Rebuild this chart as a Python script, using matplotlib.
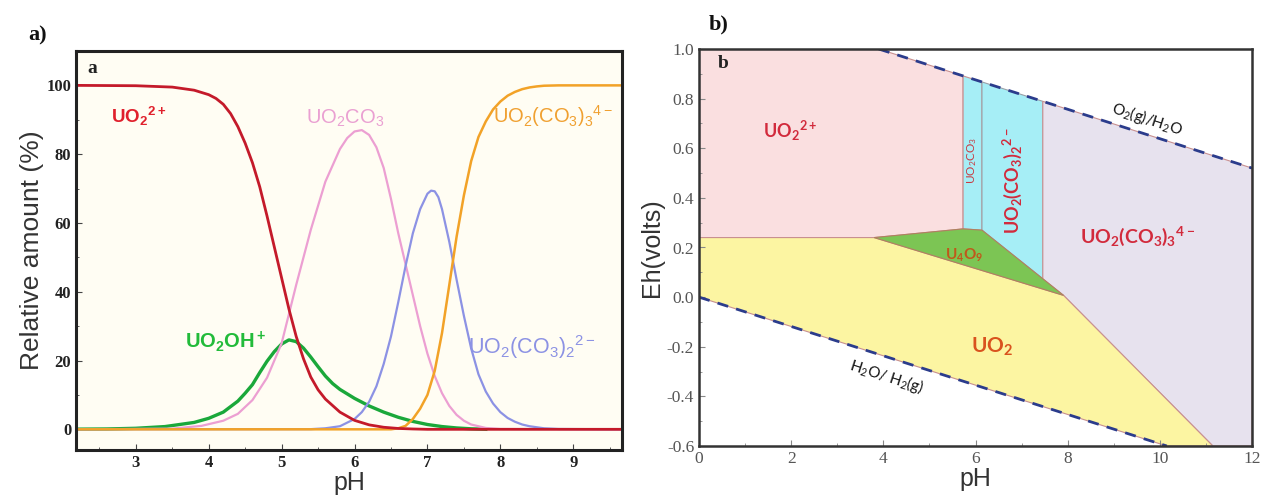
import matplotlib.pyplot as plt
import numpy as np

plt.rcParams['mathtext.fontset'] = 'custom'
plt.rcParams['mathtext.default'] = 'regular'

# ---------------- panel a: speciation curves ----------------
red_ph = [2.2, 3.0, 3.5, 3.8, 4.0, 4.1, 4.2, 4.3, 4.4, 4.5, 4.6, 4.7, 4.8, 4.9, 5.0, 5.1,
          5.2, 5.3, 5.4, 5.5, 5.6, 5.8, 6.0, 6.2, 6.4, 6.6, 6.8, 7.0, 9.7]
red = [100, 99.9, 99.5, 98.6, 97.3, 96.2, 94.5, 91.8, 88, 83.2, 77.5, 70.5, 62, 53, 44, 35,
       27, 20.5, 15.2, 11.5, 8.8, 5, 2.6, 1.3, 0.6, 0.25, 0.1, 0, 0]

green_ph = [2.2, 2.6, 3.0, 3.4, 3.8, 4.0, 4.2, 4.4, 4.5, 4.6, 4.7, 4.8, 4.9, 5.0, 5.1, 5.2,
            5.3, 5.4, 5.5, 5.6, 5.7, 5.8, 6.0, 6.2, 6.4, 6.6, 6.8, 7.0, 7.2, 7.4, 7.6, 7.8]
green = [0.05, 0.1, 0.3, 0.8, 2, 3.2, 5, 8.2, 10.5, 13, 16.5, 19.8, 22.6, 24.8, 26, 25.5,
         23.6, 21, 18.2, 15.5, 13.3, 11.6, 9, 6.8, 5, 3.5, 2.3, 1.4, 0.8, 0.4, 0.15, 0]

pink_ph = [2.2, 3.5, 3.9, 4.2, 4.4, 4.6, 4.8, 5.0, 5.2, 5.4, 5.6, 5.8, 5.9, 6.0, 6.1, 6.2,
           6.3, 6.4, 6.5, 6.6, 6.7, 6.8, 6.9, 7.0, 7.1, 7.2, 7.3, 7.4, 7.5, 7.6, 7.8, 8.0, 9.7]
pink = [0, 0.2, 1, 2.5, 4.5, 8.5, 15, 25, 42, 58, 72, 81.5, 84.7, 86.6, 87, 85.6,
        82, 76, 67, 57, 48, 39, 30, 22, 15.5, 10.5, 6.8, 4.2, 2.5, 1.4, 0.4, 0.1, 0]

blue_ph = [2.2, 5.4, 5.6, 5.8, 6.0, 6.1, 6.2, 6.3, 6.4, 6.5, 6.6, 6.7, 6.8, 6.9, 7.0, 7.05,
           7.1, 7.15, 7.2, 7.3, 7.4, 7.5, 7.6, 7.7, 7.8, 7.9, 8.0, 8.1, 8.2, 8.3, 8.4, 8.6, 8.8, 9.7]
blue = [0, 0.05, 0.3, 0.9, 3, 5, 8, 12.5, 19, 27, 37, 47.5, 57, 64, 68.5, 69.4,
        69.2, 67.5, 64, 54.5, 43.5, 33, 23.5, 16, 11, 7.5, 5, 3.3, 2.2, 1.4, 0.9, 0.3, 0.1, 0]

orange_ph = [2.2, 6.5, 6.6, 6.7, 6.8, 6.9, 7.0, 7.1, 7.2, 7.3, 7.4, 7.5, 7.6, 7.7, 7.8,
             7.9, 8.0, 8.1, 8.2, 8.3, 8.4, 8.5, 8.6, 8.8, 9.7]
orange = [0, 0, 0.3, 1, 3, 6, 10, 17, 28, 42, 56, 68, 78, 85, 89.5,
          93, 95.3, 97, 98.1, 98.9, 99.4, 99.7, 99.9, 100, 100]

# ---------------- panel b: Eh-pH diagram ----------------
o2_ph = [3.9, 12.0]
o2_eh = [1.0, 0.52]
h2_ph = [0.0, 10.15]
h2_eh = [0.0, -0.6]

uo2_2p_ph = [0, 3.8, 5.73, 5.73, 3.9, 0]
uo2_2p_eh = [0.24, 0.24, 0.275, float(np.interp(5.73, o2_ph, o2_eh)), 1.0, 1.0]
uo2co3_ph = [5.73, 6.14, 6.14, 5.73]
uo2co3_eh = [0.275, 0.27, float(np.interp(6.14, o2_ph, o2_eh)), float(np.interp(5.73, o2_ph, o2_eh))]
dicarb_ph = [6.14, 7.46, 7.46, 6.14]
dicarb_eh = [0.27, 0.074, float(np.interp(7.46, o2_ph, o2_eh)), float(np.interp(6.14, o2_ph, o2_eh))]
tricarb_ph = [7.46, 7.91, 11.15, 12, 12, 7.46]
tricarb_eh = [0.074, 0.007, -0.6, -0.6, 0.52, float(np.interp(7.46, o2_ph, o2_eh))]
u4o9_ph = [3.8, 5.73, 6.14, 7.91]
u4o9_eh = [0.24, 0.275, 0.27, 0.007]
uo2_ph = [0, 3.8, 7.91, 11.15, 10.15, 0]
uo2_eh = [0.24, 0.24, 0.007, -0.6, -0.6, 0.0]

fig = plt.figure(figsize=(12.67, 4.95), dpi=100)

serif = 'Liberation Serif'
sans = 'Liberation Sans'

###############################################################################
ax1 = fig.add_axes([0.060, 0.091, 0.431, 0.806])
ax1.set_facecolor('#fffdf3')

ax1.plot(green_ph, green, color='#1aa83a', lw=2.4)
ax1.plot(pink_ph, pink, color='#ec9fd2', lw=1.6)
ax1.plot(blue_ph, blue, color='#8c92e4', lw=1.6)
ax1.plot(orange_ph, orange, color='#f2a227', lw=1.8)
ax1.plot(red_ph, red, color='#c41a2a', lw=2.0)

ax1.set_xlim(2.18, 9.67)
ax1.set_ylim(-6, 110)
ax1.set_xticks([3, 4, 5, 6, 7, 8, 9])
ax1.set_xticks(np.arange(2.5, 9.6, 0.5), minor=True)
ax1.set_yticks([0, 20, 40, 60, 80, 100])
ax1.set_yticks(np.arange(10, 101, 10), minor=True)
ax1.tick_params(which='both', direction='in', color='#444')
ax1.tick_params(which='major', length=4)
ax1.tick_params(which='minor', length=2)
for label in ax1.get_xticklabels() + ax1.get_yticklabels():
    label.set_fontname(serif)
    label.set_fontweight('bold')
    label.set_fontsize(12)
    label.set_color('#222')
for sp in ax1.spines.values():
    sp.set_linewidth(2.2)
    sp.set_color('#222')

ax1.set_ylabel('Relative amount (%)', fontname=sans, fontsize=19, color='#333', labelpad=2)
ax1.set_xlabel('pH', fontname=sans, fontsize=18, color='#333', labelpad=0)

ax1.text(2.34, 105, 'a', fontname=serif, fontweight='bold', fontsize=14, color='#222', va='center')
ax1.text(2.66, 91, 'UO$_2$$^{2+}$', fontname=sans, fontweight='bold', fontsize=13.5, color='#e0202c', va='center')
ax1.text(5.33, 90.5, 'UO$_2$CO$_3$', fontname=sans, fontsize=14.5, color='#eaa0d2', va='center')
ax1.text(7.9, 91, 'UO$_2$(CO$_3$)$_3$$^{4-}$', fontname=sans, fontsize=14.5, color='#f0a030', va='center')
ax1.text(3.67, 25.5, 'UO$_2$OH$^+$', fontname=sans, fontweight='bold', fontsize=14.5, color='#22bb3a', va='center')
ax1.text(7.56, 24, 'UO$_2$(CO$_3$)$_2$$^{2-}$', fontname=sans, fontsize=15.5, color='#8c92e4', va='center')

###############################################################################
ax2 = fig.add_axes([0.5517, 0.099, 0.4365, 0.802])
edge = '#c89090'
ax2.fill(uo2_2p_ph, uo2_2p_eh, facecolor='#fadfe0', edgecolor=edge, lw=0.8)
ax2.fill(uo2co3_ph, uo2co3_eh, facecolor='#a6eef6', edgecolor=edge, lw=0.8)
ax2.fill(dicarb_ph, dicarb_eh, facecolor='#a6eef6', edgecolor='#9aa0a8', lw=0.8)
ax2.fill(tricarb_ph, tricarb_eh, facecolor='#e7e2ee', edgecolor=edge, lw=0.8)
ax2.fill(uo2_ph, uo2_eh, facecolor='#fcf5a2', edgecolor=edge, lw=0.8)
ax2.fill(u4o9_ph, u4o9_eh, facecolor='#7cc554', edgecolor='#b08060', lw=0.8)

ax2.plot(o2_ph, o2_eh, color='#2b3c8c', lw=2, ls=(0, (4, 3)))
ax2.plot(h2_ph, h2_eh, color='#2b3c8c', lw=2, ls=(0, (4, 3)))

ax2.set_xlim(0, 12)
ax2.set_ylim(-0.6, 1.0)
ax2.set_xticks(np.arange(0, 13, 2))
ax2.set_xticks(np.arange(1, 12, 2), minor=True)
ax2.set_yticks(np.arange(-0.6, 1.01, 0.2))
ax2.set_yticks(np.arange(-0.5, 1.0, 0.2), minor=True)
ax2.set_yticklabels(['%.1f' % v for v in np.arange(-0.6, 1.01, 0.2)])
ax2.tick_params(which='both', direction='in', color='#888')
ax2.tick_params(which='major', length=4)
ax2.tick_params(which='minor', length=2)
for label in ax2.get_xticklabels() + ax2.get_yticklabels():
    label.set_fontname(serif)
    label.set_fontsize(12.5)
    label.set_color('#555')
for sp in ax2.spines.values():
    sp.set_linewidth(1.8)
    sp.set_color('#333')

ax2.set_ylabel('Eh(volts)', fontname=sans, fontsize=18, color='#333', labelpad=2)
ax2.set_xlabel('pH', fontname=sans, fontsize=18, color='#333', labelpad=0)

lab = 'Lato'
ax2.text(0.41, 0.94, 'b', fontname=serif, fontweight='bold', fontsize=14, color='#222', va='center')
ax2.text(1.97, 0.67, 'UO$_2$$^{2+}$', fontname=lab, fontweight='bold', fontsize=13, color='#d22a3c', va='center', ha='center')
ax2.text(5.93, 0.55, 'UO$_2$CO$_3$', fontname=lab, fontsize=8.5, color='#c83a40', va='center', ha='center', rotation=90)
ax2.text(6.8, 0.47, 'UO$_2$(CO$_3$)$_2$$^{2-}$', fontname=lab, fontweight='bold', fontsize=13, color='#d22a3c', va='center', ha='center', rotation=90)
ax2.text(8.27, 0.245, 'UO$_2$(CO$_3$)$_3$$^{4-}$', fontname=lab, fontweight='bold', fontsize=14, color='#d22a3c', va='center')
ax2.text(5.75, 0.17, 'U$_4$O$_9$', fontname=lab, fontweight='bold', fontsize=11, color='#c0581a', va='center', ha='center')
ax2.text(6.36, -0.2, 'UO$_2$', fontname=lab, fontweight='bold', fontsize=15, color='#d9531e', va='center', ha='center')
ax2.text(9.72, 0.72, 'O$_2$(g)/H$_2$O', fontname=lab, fontsize=11, color='#111', va='center', ha='center', rotation=-18)
ax2.text(4.08, -0.32, 'H$_2$O/ H$_2$(g)', fontname=lab, fontsize=11, color='#111', va='center', ha='center', rotation=-18)

fig.text(0.022, 0.919, 'a)', fontname=serif, fontweight='bold', fontsize=16, color='#111', va='baseline')
fig.text(0.559, 0.940, 'b)', fontname=serif, fontweight='bold', fontsize=16, color='#111', va='baseline')

plt.savefig('out.png', dpi=100)
